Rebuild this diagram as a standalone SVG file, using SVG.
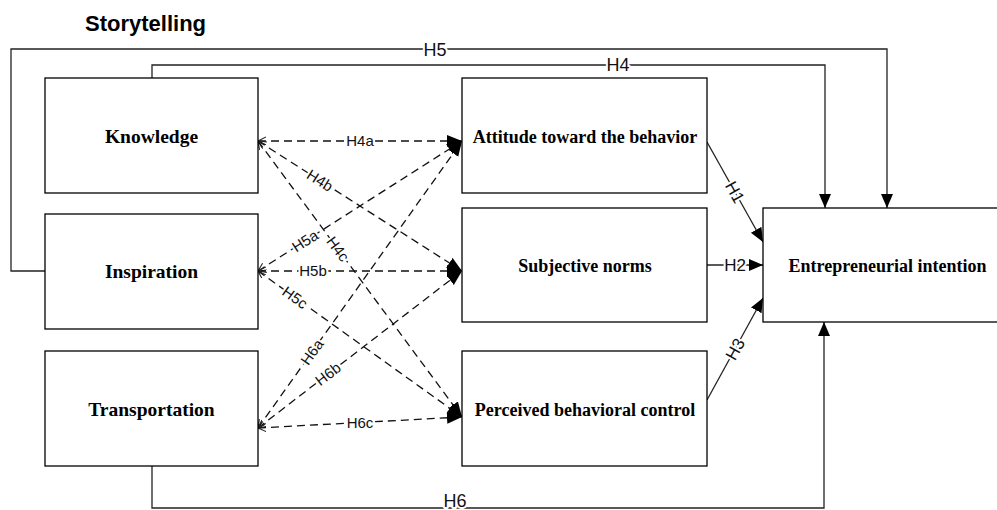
<svg xmlns="http://www.w3.org/2000/svg" width="997" height="510" viewBox="0 0 997 510">
<defs>
<style>
.box{fill:#fff;stroke:#000;stroke-width:1.3}
.nt{font-family:"Liberation Serif","Times New Roman",serif;font-weight:bold;font-size:18px;text-anchor:middle;fill:#000}
.nl{font-size:19.5px}
.ln{fill:none;stroke:#222;stroke-width:1.3}
.ds{fill:none;stroke:#111;stroke-width:1.3;stroke-dasharray:8 5}
.lb{font-family:"Liberation Sans",Arial,sans-serif;font-size:15px;text-anchor:middle;fill:#111;stroke:#fff;stroke-width:4;paint-order:stroke;stroke-linejoin:round}
.lb2{font-size:18px}
.lb3{font-size:17px}
.title{font-family:"Liberation Sans",Arial,sans-serif;font-weight:bold;font-size:22px;fill:#000}
</style>
<marker id="fa" markerUnits="userSpaceOnUse" markerWidth="16" markerHeight="14" refX="15" refY="6" orient="auto">
<path d="M0,0 L15,6 L0,12 z" fill="#000"/>
</marker>
<marker id="sa" markerUnits="userSpaceOnUse" markerWidth="14" markerHeight="14" refX="14" refY="6" orient="auto">
<path d="M0,0 L14,6 L0,12 z" fill="#000"/>
</marker>
<marker id="oa" markerUnits="userSpaceOnUse" markerWidth="10" markerHeight="10" refX="8" refY="4" orient="auto-start-reverse">
<path d="M0,0 L8,4 L0,8" fill="none" stroke="#222" stroke-width="1.1"/>
</marker>
</defs>
<rect width="997" height="510" fill="#fff"/>
<text class="title" x="85" y="31">Storytelling</text>

<g id="connectors">
<path class="ln" d="M45,271 H11 V49 H887 V208" marker-end="url(#sa)"/>
<path class="ln" d="M152,78 V65 H825 V208" marker-end="url(#sa)"/>
<path class="ln" d="M152,466 V508 H824 V322" marker-end="url(#sa)"/>
<line class="ln" x1="707" y1="142" x2="763" y2="242" marker-end="url(#sa)"/>
<line class="ln" x1="707" y1="265" x2="763" y2="265" marker-end="url(#sa)"/>
<line class="ln" x1="707" y1="400" x2="763" y2="298" marker-end="url(#sa)"/>
<line class="ds" x1="258" y1="141" x2="462" y2="141" marker-start="url(#oa)" marker-end="url(#fa)"/>
<line class="ds" x1="258" y1="141" x2="462" y2="271" marker-start="url(#oa)" marker-end="url(#fa)"/>
<line class="ds" x1="258" y1="141" x2="462" y2="417" marker-start="url(#oa)" marker-end="url(#fa)"/>
<line class="ds" x1="258" y1="271" x2="462" y2="141" marker-start="url(#oa)" marker-end="url(#fa)"/>
<line class="ds" x1="258" y1="271" x2="462" y2="271" marker-start="url(#oa)" marker-end="url(#fa)"/>
<line class="ds" x1="258" y1="271" x2="462" y2="417" marker-start="url(#oa)" marker-end="url(#fa)"/>
<line class="ds" x1="258" y1="428" x2="462" y2="141" marker-start="url(#oa)" marker-end="url(#fa)"/>
<line class="ds" x1="258" y1="428" x2="462" y2="271" marker-start="url(#oa)" marker-end="url(#fa)"/>
<line class="ds" x1="258" y1="428" x2="462" y2="417" marker-start="url(#oa)" marker-end="url(#fa)"/>
<text class="lb lb2" x="435" y="50" dy="0.35em">H5</text>
<text class="lb lb2" x="618" y="65" dy="0.35em">H4</text>
<text class="lb lb2" x="455" y="501" dy="0.35em">H6</text>
<text class="lb lb3" transform="translate(735,192) rotate(60.8)" dy="0.35em">H1</text>
<text class="lb lb3" x="735" y="265" dy="0.35em">H2</text>
<text class="lb lb3" transform="translate(735,349) rotate(-61)" dy="0.35em">H3</text>
<text class="lb" x="360" y="141" dy="0.35em">H4a</text>
<text class="lb" transform="translate(320,180.5) rotate(32.5)" dy="0.35em">H4b</text>
<text class="lb" transform="translate(338,249) rotate(53.5)" dy="0.35em">H4c</text>
<text class="lb" transform="translate(305,241) rotate(-32.5)" dy="0.35em">H5a</text>
<text class="lb" x="313" y="271" dy="0.35em">H5b</text>
<text class="lb" transform="translate(295,297.5) rotate(35.6)" dy="0.35em">H5c</text>
<text class="lb" transform="translate(312,352) rotate(-54.6)" dy="0.35em">H6a</text>
<text class="lb" transform="translate(328,374) rotate(-37.6)" dy="0.35em">H6b</text>
<text class="lb" x="360" y="422.5" dy="0.35em">H6c</text>
</g>

<g id="knowledge"><rect class="box" x="45" y="78" width="213" height="115"/><text class="nt nl" x="151.5" y="143">Knowledge</text></g>
<g id="inspiration"><rect class="box" x="45" y="214" width="213" height="115"/><text class="nt nl" x="151.5" y="278">Inspiration</text></g>
<g id="transportation"><rect class="box" x="45" y="351" width="213" height="115"/><text class="nt nl" x="151.5" y="416">Transportation</text></g>
<g id="attitude"><rect class="box" x="462" y="78" width="245" height="115"/><text class="nt" x="585" y="143">Attitude toward the behavior</text></g>
<g id="subjective"><rect class="box" x="462" y="208" width="245" height="114"/><text class="nt" x="585" y="272">Subjective norms</text></g>
<g id="perceived"><rect class="box" x="462" y="351" width="245" height="115"/><text class="nt" x="585" y="416">Perceived behavioral control</text></g>
<g id="intention"><rect class="box" x="763" y="208" width="250" height="114"/><text class="nt" x="887.5" y="272">Entrepreneurial intention</text></g>
</svg>
